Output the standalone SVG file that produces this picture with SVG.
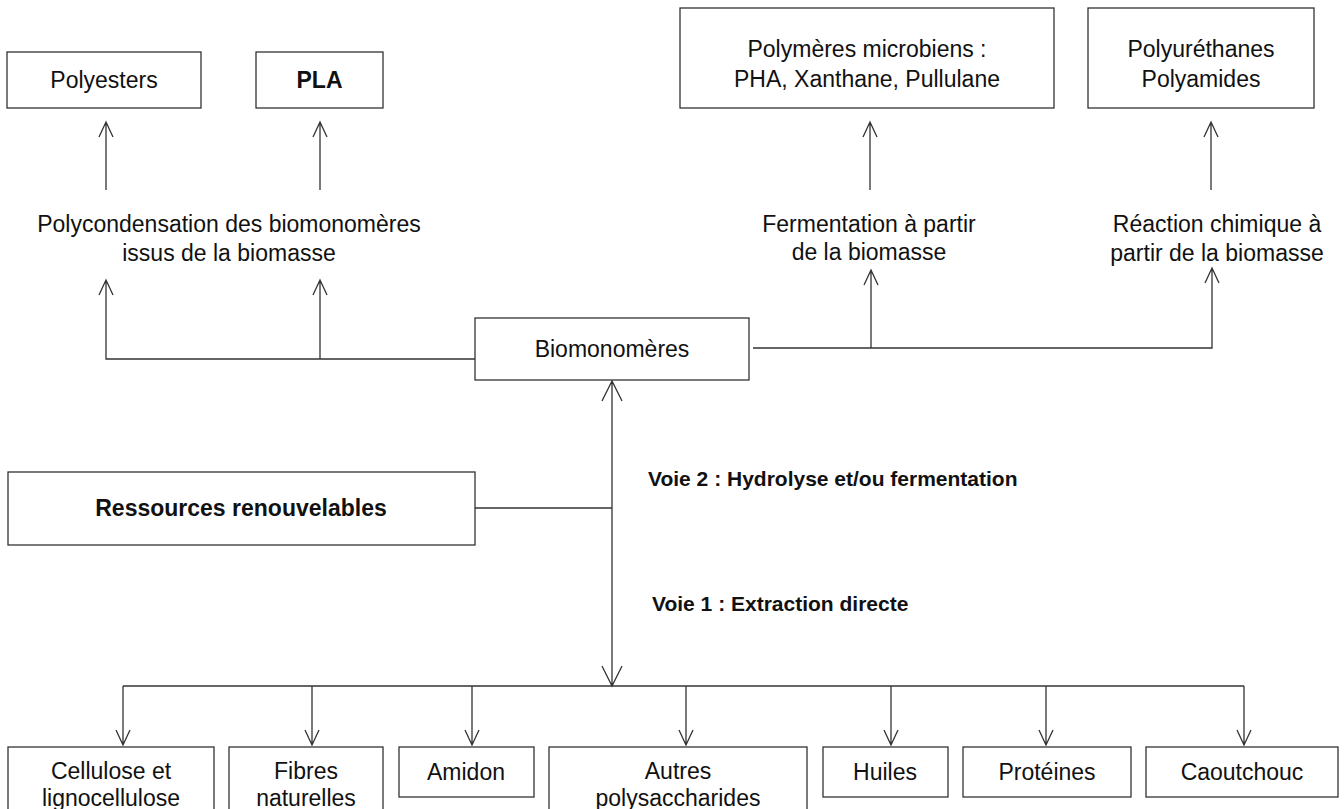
<svg xmlns="http://www.w3.org/2000/svg" width="1344" height="809" viewBox="0 0 1344 809">
<style>
.box{fill:#fff;stroke:#333;stroke-width:1.3}
.t{font-family:"Liberation Sans",Arial,sans-serif;font-size:23px;fill:#111;text-anchor:middle}
.b{font-weight:bold}
.v{font-family:"Liberation Sans",Arial,sans-serif;font-size:21px;font-weight:bold;fill:#111}
.ln{fill:none;stroke:#333;stroke-width:1.3}
</style>
<rect width="1344" height="809" fill="#fff"/>
<g id="connectors">
<!-- top arrows to product boxes -->
<path class="ln" d="M106 190V122M99 137L106 122L113 137"/>
<path class="ln" d="M320 190V122M313 137L320 122L327 137"/>
<path class="ln" d="M870 190V122M863 137L870 122L877 137"/>
<path class="ln" d="M1211 190V122M1204 137L1211 122L1218 137"/>
<!-- from biomonomeres left -->
<path class="ln" d="M475 359H106V280M99 295L106 280L113 295"/>
<path class="ln" d="M320 359V280M313 295L320 280L327 295"/>
<!-- right -->
<path class="ln" d="M753 348H1212V268M1205 283L1212 268L1219 283"/>
<path class="ln" d="M871 348V270M864 285L871 270L878 285"/>
<!-- central -->
<path class="ln" d="M612 381V686M602 401L612 381L622 401M602 666L612 686L622 666"/>
<path class="ln" d="M475 508H612"/>
<!-- distribution -->
<path class="ln" d="M123 686H1244"/>
<path class="ln" d="M123 686V745M116 730L123 745L130 730"/>
<path class="ln" d="M312 686V745M305 730L312 745L319 730"/>
<path class="ln" d="M472 686V745M465 730L472 745L479 730"/>
<path class="ln" d="M686 686V745M679 730L686 745L693 730"/>
<path class="ln" d="M891 686V745M884 730L891 745L898 730"/>
<path class="ln" d="M1046 686V745M1039 730L1046 745L1053 730"/>
<path class="ln" d="M1244 686V745M1237 730L1244 745L1251 730"/>
</g>
<g id="polyesters"><rect class="box" x="7" y="52" width="194" height="56"/><text class="t" x="104" y="88">Polyesters</text></g>
<g id="pla"><rect class="box" x="256" y="52" width="127" height="56"/><text class="t b" x="319.5" y="88">PLA</text></g>
<g id="polymeres-microbiens"><rect class="box" x="680" y="8" width="374" height="100"/><text class="t" x="867" y="57">Polymères microbiens :</text><text class="t" x="867" y="87">PHA, Xanthane, Pullulane</text></g>
<g id="polyurethanes"><rect class="box" x="1088" y="8" width="226" height="100"/><text class="t" x="1201" y="57">Polyuréthanes</text><text class="t" x="1201" y="87">Polyamides</text></g>
<g id="label-polycondensation"><text class="t" x="229" y="232">Polycondensation des biomonomères</text><text class="t" x="229" y="261">issus de la biomasse</text></g>
<g id="label-fermentation"><text class="t" x="869" y="232">Fermentation à partir</text><text class="t" x="869" y="260">de la biomasse</text></g>
<g id="label-reaction"><text class="t" x="1217" y="232">Réaction chimique à</text><text class="t" x="1217" y="261">partir de la biomasse</text></g>
<g id="biomonomeres"><rect class="box" x="475" y="318" width="274" height="62"/><text class="t" x="612" y="357">Biomonomères</text></g>
<g id="ressources"><rect class="box" x="8" y="472" width="467" height="73"/><text class="t b" x="241" y="516">Ressources renouvelables</text></g>
<g id="voie2"><text class="v" x="648" y="486">Voie 2 : Hydrolyse et/ou fermentation</text></g>
<g id="voie1"><text class="v" x="652" y="611">Voie 1 : Extraction directe</text></g>
<g id="cellulose"><rect class="box" x="8" y="747" width="206" height="80"/><text class="t" x="111" y="779">Cellulose et</text><text class="t" x="111" y="806">lignocellulose</text></g>
<g id="fibres"><rect class="box" x="229" y="747" width="154" height="80"/><text class="t" x="306" y="779">Fibres</text><text class="t" x="306" y="806">naturelles</text></g>
<g id="amidon"><rect class="box" x="399" y="747" width="135" height="50"/><text class="t" x="466" y="780">Amidon</text></g>
<g id="autres"><rect class="box" x="549" y="747" width="258" height="80"/><text class="t" x="678" y="779">Autres</text><text class="t" x="678" y="806">polysaccharides</text></g>
<g id="huiles"><rect class="box" x="823" y="747" width="125" height="50"/><text class="t" x="885" y="780">Huiles</text></g>
<g id="proteines"><rect class="box" x="963" y="747" width="168" height="50"/><text class="t" x="1047" y="780">Protéines</text></g>
<g id="caoutchouc"><rect class="box" x="1146" y="747" width="192" height="50"/><text class="t" x="1242" y="780">Caoutchouc</text></g>
</svg>
